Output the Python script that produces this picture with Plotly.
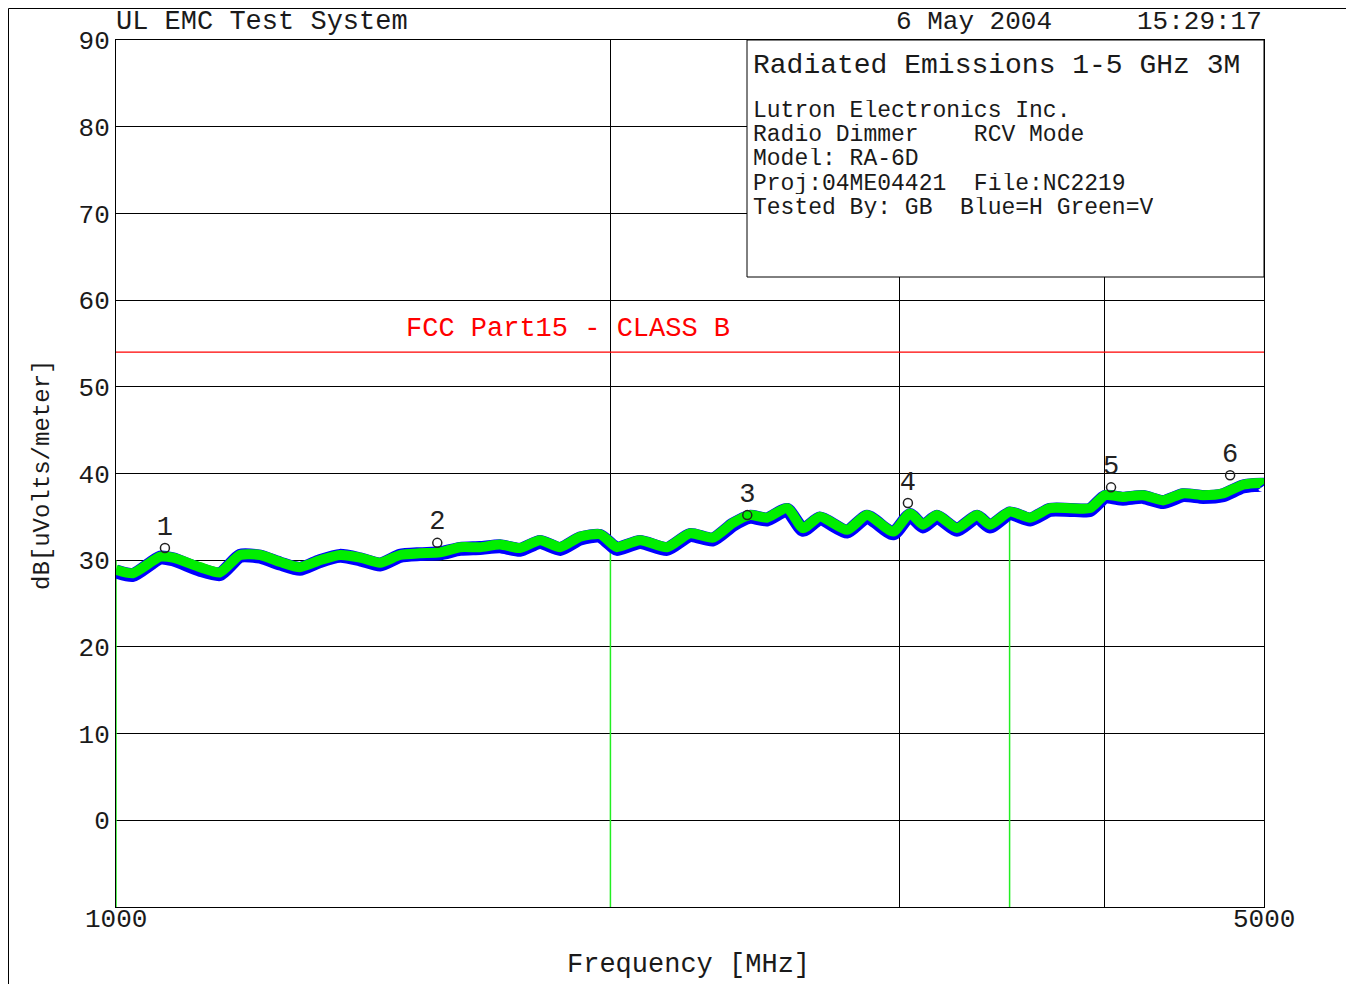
import math
import plotly.graph_objects as go

# ---------------- data ----------------
freq_mhz = [1000, 1024, 1064, 1083, 1125, 1157, 1190, 1224, 1259, 1294, 1331, 1369,
            1408, 1448, 1489, 1531, 1575, 1620, 1666, 1713, 1762, 1812, 1864, 1917,
            1971, 2007, 2019, 2085, 2165, 2236, 2309, 2375, 2432, 2491, 2562, 2620,
            2683, 2787, 2866, 2973, 3044, 3100, 3161, 3251, 3344, 3405, 3502, 3602,
            3704, 3810, 3918, 4001, 4103, 4220, 4340, 4464, 4591, 4721, 4855, 4994, 5000]
green_v = [28.9, 28.5, 30.4, 30.3, 29.2, 28.6, 30.6, 30.6, 29.8, 29.2, 30.0, 30.6,
           30.3, 29.7, 30.6, 30.8, 30.9, 31.5, 31.5, 31.8, 31.4, 32.3, 31.5, 32.7,
           33.0, 31.8, 31.5, 32.3, 31.5, 33.1, 32.6, 34.3, 35.2, 34.9, 36.0, 33.7,
           35.0, 33.5, 35.2, 33.3, 35.4, 34.1, 35.2, 33.7, 35.2, 34.1, 35.6, 34.9,
           36.0, 36.0, 36.0, 37.5, 37.3, 37.5, 36.9, 37.7, 37.5, 37.7, 38.7, 38.9, 38.8]
blue_h = [28.7, 28.3, 30.3, 30.1, 28.9, 28.4, 30.5, 30.4, 29.6, 29.0, 29.9, 30.5,
          30.1, 29.5, 30.5, 30.7, 30.8, 31.3, 31.4, 31.6, 31.2, 32.1, 31.3, 32.5,
          32.8, 31.6, 31.3, 32.1, 31.3, 32.9, 32.4, 34.1, 35.0, 34.7, 35.8, 33.5,
          34.8, 33.3, 35.0, 33.1, 35.2, 33.9, 35.0, 33.5, 35.0, 33.9, 35.4, 34.7,
          35.8, 35.8, 35.8, 37.3, 37.1, 37.3, 36.7, 37.5, 37.3, 37.5, 38.5, 38.7, 38.6]

band_break_freqs = [1000, 2000, 3500]
band_break_tops = [30.0, 31.5, 35.0]
floor_level = -10

limit_freqs = [1000, 5000]
limit_levels = [54, 54]

marker_freqs = [1071, 1569, 2423, 3035, 4035, 4768]
marker_levels = [31.4, 32.0, 35.2, 36.6, 38.4, 39.8]
marker_labels = ["1", "2", "3", "4", "5", "6"]

x_tickvals = [1000, 2000, 3000, 4000, 5000]
x_ticktext = ["1000", "", "", "", "5000"]
y_tickvals = [0, 10, 20, 30, 40, 50, 60, 70, 80, 90]

info_title = "Radiated Emissions 1-5 GHz 3M"
info_lines = ["Lutron Electronics Inc.",
              "Radio Dimmer&#160;&#160;&#160;&#160;RCV Mode",
              "Model: RA-6D",
              "Proj:04ME04421&#160;&#160;File:NC2219",
              "Tested By: GB&#160;&#160;Blue=H Green=V"]

# ---------------- layout geometry (reference pixels) ----------------
OFF = 8                      # page body margin of the browser
W, H = 1354 - OFF, 984 - OFF
PL, PR, PT, PB = 116, 1264, 40, 907
FONT = "Liberation Mono"
TXT = "#1a1a1a"


def px(x):
    return (x - PL) / (PR - PL)


def py(y):
    return (PB - y) / (PB - PT)


fig = go.Figure()

# band-break drops of the vertical-polarisation sweep
bx, by = [], []
for f, t in zip(band_break_freqs, band_break_tops):
    bx += [f, f, None]
    by += [floor_level, t, None]
fig.add_trace(go.Scatter(x=bx, y=by, mode="lines",
                         line=dict(color="#22ee22", width=1.5), hoverinfo="skip"))

fig.add_trace(go.Scatter(x=freq_mhz, y=blue_h, mode="lines", name="H",
                         line=dict(color="#0000ff", width=14, shape="spline", smoothing=0.6)))
fig.add_trace(go.Scatter(x=freq_mhz, y=green_v, mode="lines", name="V",
                         line=dict(color="#00ee00", width=10, shape="spline", smoothing=0.6)))

fig.add_trace(go.Scatter(x=limit_freqs, y=limit_levels, mode="lines",
                         line=dict(color="#ff0000", width=1.2)))

fig.add_trace(go.Scatter(x=marker_freqs, y=marker_levels, mode="markers+text",
                         text=marker_labels, textposition="top center",
                         textfont=dict(family=FONT, size=27, color="#222222"),
                         marker=dict(symbol="circle-open", size=9,
                                     color="#222222", line=dict(width=1.5))))

shapes = [
    dict(type="rect", xref="paper", yref="paper",
         x0=px(747), x1=1, y0=py(277), y1=1,
         fillcolor="white", line=dict(color="black", width=1), layer="above"),
    dict(type="rect", xref="paper", yref="paper",
         x0=px(OFF + 0.5), x1=px(1347.5), y0=py(983 + 10), y1=py(OFF + 0.5),
         fillcolor="rgba(0,0,0,0)", line=dict(color="black", width=1), layer="above"),
]

ann = []
ann.append(dict(text="UL EMC Test System", x=px(114), y=py(22), xanchor="left",
                yanchor="middle", font=dict(size=27)))
ann.append(dict(text="6 May 2004", x=px(1054), y=py(22), xanchor="right",
                yanchor="middle", font=dict(size=26)))
ann.append(dict(text="15:29:17", x=px(1264), y=py(22), xanchor="right",
                yanchor="middle", font=dict(size=26)))
ann.append(dict(text=info_title, x=px(751), y=py(66), xanchor="left",
                yanchor="middle", font=dict(size=28)))
for i, line in enumerate(info_lines):
    ann.append(dict(text=line, x=px(751), y=py(110 + i * 24.4), xanchor="left",
                    yanchor="middle", height=21, valign="middle", font=dict(size=23)))
ann.append(dict(text="FCC Part15 - CLASS B", x=px(568), y=py(329), xanchor="center",
                yanchor="middle", font=dict(size=27, color="#ff0000")))
ann.append(dict(text="Frequency [MHz]", x=px(688), y=py(965), xanchor="center",
                yanchor="middle", font=dict(size=27)))
ann.append(dict(text="dB[uVolts/meter]", x=px(42), y=py(475), xanchor="center",
                yanchor="middle", textangle=-90, font=dict(size=24)))
# x-axis tick labels sit close under the frame in the reference
for v, t in zip(x_tickvals, x_ticktext):
    if t:
        ann.append(dict(text=t, x=math.log10(v), xref="x", y=py(920), xanchor="center",
                        yanchor="middle", font=dict(size=26)))
for a in ann:
    a.setdefault("xref", "paper")
    a.update(yref="paper", showarrow=False)
    a["font"].setdefault("color", TXT)
    a["font"]["family"] = FONT

fig.update_layout(
    width=W, height=H,
    margin=dict(l=PL - OFF, r=W - (PR - OFF), t=PT - OFF, b=H - (PB - OFF), pad=0),
    paper_bgcolor="white", plot_bgcolor="white",
    showlegend=False,
    shapes=shapes, annotations=ann,
    font=dict(family=FONT, color=TXT),
)
fig.update_xaxes(type="log", range=[3, math.log10(5000)], tickvals=x_tickvals,
                 showticklabels=False,
                 showgrid=True, gridcolor="black", gridwidth=1, zeroline=False,
                 showline=True, linecolor="black", linewidth=1, mirror=True, ticks="")
fig.update_yaxes(range=[-10, 90], tickvals=y_tickvals,
                 showgrid=True, gridcolor="black", gridwidth=1, zeroline=False,
                 showline=True, linecolor="black", linewidth=1, mirror=True,
                 ticks="", tickfont=dict(family=FONT, size=26, color=TXT))

fig.write_html("out.html")
